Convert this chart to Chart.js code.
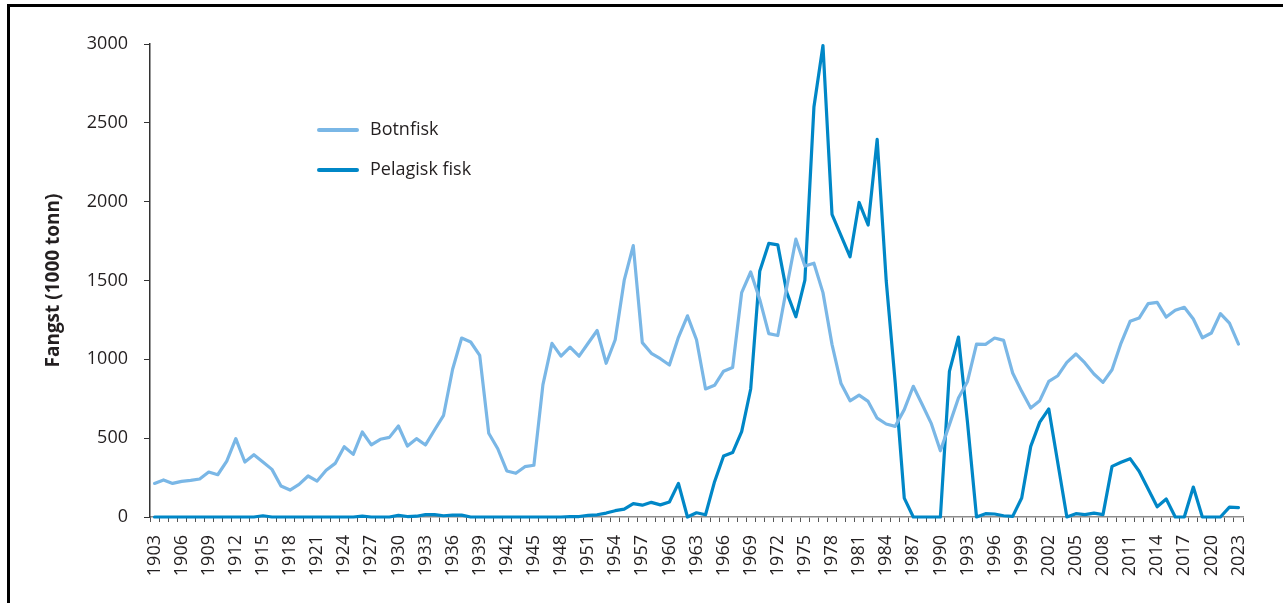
<!DOCTYPE html>
<html>
<head>
<meta charset="utf-8">
<script src="https://cdn.jsdelivr.net/npm/chart.js@4.4.1/dist/chart.umd.min.js"></script>
<style>
  body { margin: 0; background: #fff; }
  #wrap { position: relative; width: 1283px; height: 603px; overflow: hidden; }
  #frame { position: absolute; left: 7px; top: 4px; width: 1400px; height: 700px;
           border-left: 3px solid #000; border-top: 3px solid #000; }
  canvas { position: absolute; left: 0; top: 0; }
</style>
</head>
<body>
<div id="wrap">
  <div id="frame"></div>
  <canvas id="chart" width="1283" height="603"></canvas>
</div>
<script>
const years = [
  "1903","1904","1905","1906","1907","1908","1909","1910","1911","1912",
  "1913","1914","1915","1916","1917","1918","1919","1920","1921","1922",
  "1923","1924","1925","1926","1927","1928","1929","1930","1931","1932",
  "1933","1934","1935","1936","1937","1938","1939","1940","1941","1942",
  "1943","1944","1945","1946","1947","1948","1949","1950","1951","1952",
  "1953","1954","1955","1956","1957","1958","1959","1960","1961","1962",
  "1963","1964","1965","1966","1967","1968","1969","1970","1971","1972",
  "1973","1974","1975","1976","1977","1978","1979","1980","1981","1982",
  "1983","1984","1985","1986","1987","1988","1989","1990","1991","1992",
  "1993","1994","1995","1996","1997","1998","1999","2000","2001","2002",
  "2003","2004","2005","2006","2007","2008","2009","2010","2011","2012",
  "2013","2014","2015","2016","2017","2018","2019","2020","2021","2022",
  "2023"
];

// Botnfisk, 1000 tonn
const botnfisk = [
  213, 235, 213, 226, 232, 241, 285, 268, 355, 497,
  349, 395, 349, 302, 197, 171, 207, 260, 228, 296,
  340, 446, 397, 539, 457, 493, 505, 577, 450, 497,
  457, 552, 645, 937, 1135, 1110, 1025, 531, 433, 292,
  277, 319, 328, 840, 1101, 1020, 1077, 1020, 1102, 1183,
  975, 1124, 1502, 1721, 1106, 1038, 1004, 964, 1140, 1276,
  1124, 812, 835, 925, 948, 1423, 1554, 1380, 1163, 1151,
  1460, 1762, 1592, 1610, 1423, 1095, 846, 737, 773, 733,
  627, 590, 575, 681, 829, 712, 592, 420, 586, 755,
  860, 1097, 1095, 1135, 1120, 913, 797, 691, 738, 860,
  896, 981, 1034, 977, 907, 854, 934, 1103, 1241, 1262,
  1353, 1361, 1268, 1311, 1330, 1256, 1137, 1167, 1290, 1230,
  1097
];

// Pelagisk fisk, 1000 tonn
const pelagisk = [
  0, 0, 0, 0, 0, 0, 0, 0, 0, 0,
  0, 0, 8, 0, 0, 0, 0, 0, 0, 0,
  0, 0, 0, 5, 0, 0, 0, 10, 3, 5,
  15, 15, 8, 12, 12, 0, 0, 0, 0, 0,
  0, 0, 0, 0, 0, 0, 2, 3, 10, 14,
  25, 40, 50, 85, 75, 93, 77, 95, 213, 0,
  27, 14, 224, 387, 409, 541, 812, 1558, 1735, 1726,
  1423, 1270, 1502, 2600, 2990, 1920, 1785, 1650, 1995, 1852,
  2395, 1500, 850, 120, 0, 0, 0, 0, 924, 1141,
  600, 0, 21, 19, 8, 4, 120, 448, 602, 685,
  342, 0, 21, 15, 25, 15, 321, 347, 370, 290,
  178, 65, 114, 0, 0, 190, 0, 0, 0, 63,
  59
];

const yTicks = [0, 500, 1000, 1500, 2000, 2500, 3000];

const lightBlue = '#7ab7e6';
const darkBlue = '#0087c7';
const textColor = '#231f20';

// legend drawn inside the plot, as in the original
const legendPlugin = {
  id: 'insideLegend',
  afterDraw(chart) {
    const ctx = chart.ctx;
    ctx.save();
    ctx.font = '18px "Open Sans"';
    ctx.textBaseline = 'middle';
    ctx.lineCap = 'round';
    chart.data.datasets.forEach((ds, i) => {
      const y = 130 + i * 40;
      ctx.strokeStyle = ds.borderColor;
      ctx.lineWidth = 4;
      ctx.beginPath();
      ctx.moveTo(319, y);
      ctx.lineTo(357, y);
      ctx.stroke();
      ctx.fillStyle = textColor;
      ctx.fillText(ds.label, 370, y);
    });
    ctx.restore();
  }
};

new Chart(document.getElementById('chart'), {
  type: 'line',
  data: {
    labels: years,
    datasets: [
      { label: 'Botnfisk', data: botnfisk, borderColor: lightBlue },
      { label: 'Pelagisk fisk', data: pelagisk, borderColor: darkBlue }
    ]
  },
  options: {
    responsive: false,
    animation: false,
    devicePixelRatio: 1,
    layout: { padding: { left: 0, top: 44, right: 40, bottom: 0 } },
    elements: {
      line: { borderWidth: 3.2, tension: 0, borderJoinStyle: 'round', borderCapStyle: 'round' },
      point: { radius: 0, hoverRadius: 0 }
    },
    clip: false,
    plugins: {
      legend: { display: false },
      tooltip: { enabled: false }
    },
    scales: {
      x: {
        type: 'category',
        offset: true,
        afterFit(scale) { scale.height = 86; },
        border: { color: '#8c8c8c', width: 1.5 },
        grid: { offset: true, drawOnChartArea: false, drawTicks: true, tickLength: 5, color: '#555', lineWidth: 1 },
        ticks: {
          autoSkip: false,
          minRotation: 90,
          maxRotation: 90,
          padding: 13,
          color: textColor,
          font: { family: '"Open Sans"', size: 18 },
          callback(value, index) { return index % 3 === 0 ? years[index] : ''; }
        }
      },
      y: {
        min: 0,
        max: 3000,
        afterFit(scale) { scale.width = 150; },
        afterBuildTicks(scale) { scale.ticks = yTicks.map(v => ({ value: v })); },
        border: { color: '#333', width: 1.5 },
        grid: { drawOnChartArea: false, drawTicks: true, tickLength: 6, color: '#333' },
        ticks: {
          padding: 16,
          color: textColor,
          font: { family: '"Open Sans"', size: 18 },
          callback(value) { return String(value); }
        },
        title: {
          display: true,
          text: 'Fangst (1000 tonn)',
          color: textColor,
          font: { family: '"Open Sans"', size: 19, weight: 'bold' },
          padding: { top: 42, bottom: 0 }
        }
      }
    }
  },
  plugins: [legendPlugin]
});
</script>
</body>
</html>
